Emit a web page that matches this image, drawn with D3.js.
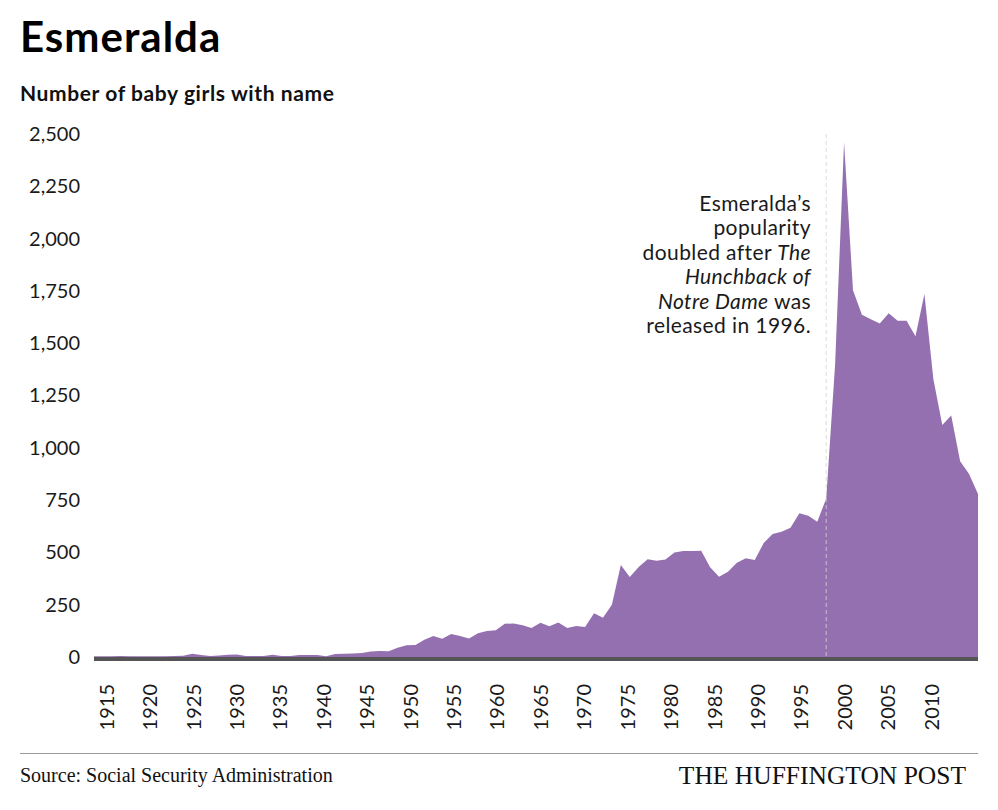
<!DOCTYPE html>
<html>
<head>
<meta charset="utf-8">
<script src="https://cdn.jsdelivr.net/npm/d3@7"></script>
<style>
  body { margin: 0; background: #fff; }
  #chart { width: 998px; height: 810px; }
</style>
</head>
<body>
<div id="chart"></div>
<script>
// Girls named Esmeralda per year (SSA)
const firstYear = 1914;
const counts = [
    3, 3, 4, 5, 4, 4, 4, 3, 4, 5,                           // 1914-1923
    6, 15, 9, 5, 7, 11, 12, 5, 5, 5,                        // 1924-1933
    11, 5, 5, 10, 9, 9, 4, 14, 16, 17,                      // 1934-1943
    19, 26, 29, 27, 44, 56, 57, 83, 100, 87,                // 1944-1953
    110, 100, 88, 114, 124, 128, 159, 160, 152, 139,        // 1954-1963
    164, 147, 165, 139, 148, 143, 209, 188, 250, 440,       // 1964-1973
    382, 430, 467, 460, 466, 499, 507, 507, 508, 429,       // 1974-1983
    384, 407, 451, 472, 464, 545, 588, 599, 618, 687,       // 1984-1993
    675, 647, 757, 1400, 2460, 1753, 1636, 1614, 1594, 1643, // 1994-2003
    1607, 1607, 1533, 1735, 1329, 1109, 1154, 936, 875, 779  // 2004-2013
];
const yTicks = [0, 250, 500, 750, 1000, 1250, 1500, 1750, 2000, 2250, 2500];
const xTicks = [1915, 1920, 1925, 1930, 1935, 1940, 1945, 1950, 1955, 1960,
    1965, 1970, 1975, 1980, 1985, 1990, 1995, 2000, 2005, 2010];
const releaseYear = 1996;
const noteLines = [
    [['Esmeralda’s', false]],
    [['popularity', false]],
    [['doubled after ', false], ['The', true]],
    [['Hunchback of', true]],
    [['Notre Dame', true], [' was', false]],
    [['released in 1996.', false]]
];

const FONT = 'Lato, "Open Sans", sans-serif';
const SERIF = '"Liberation Serif", "DejaVu Serif", serif';

class ChartManager {
    static create(idName) {
        const data = counts.map((v, i) => ({ year: firstYear + i, value: v }));
        const svg = d3.select('#' + idName).append('svg')
            .attr('width', 998)
            .attr('height', 810)
            .style('background', '#fff');

        const scales = {
            x: d3.scaleLinear().domain([firstYear, firstYear + counts.length - 1]).range([94, 978]),
            // the original's year labels sit on a slightly tighter grid than the data
            xLabel: d3.scaleLinear().domain([1915, 2010]).range([106, 931]),
            y: d3.scaleLinear().domain([0, 2500]).range([657, 134])
        };

        this.drawTitles(svg);
        this.drawArea(svg, data, scales);
        this.drawAxes(svg, data, scales);
        this.drawAnnotation(svg, scales);
        this.drawFooter(svg);
    }

    static drawTitles(svg) {
        svg.append('text')
            .attr('x', 20).attr('y', 52)
            .attr('font-family', FONT).attr('font-size', 42).attr('font-weight', 700)
            .attr('letter-spacing', 1)
            .attr('fill', '#000')
            .text('Esmeralda');

        svg.append('text')
            .attr('x', 20).attr('y', 101)
            .attr('font-family', FONT).attr('font-size', 21).attr('font-weight', 700)
            .attr('letter-spacing', 0.6)
            .attr('fill', '#111')
            .text('Number of baby girls with name');
    }

    static drawArea(svg, data, scales) {
        const area = d3.area()
            .x(d => scales.x(d.year))
            .y0(scales.y(0))
            .y1(d => scales.y(d.value));

        svg.append('path')
            .datum(data)
            .attr('fill', '#9470b0')
            .attr('d', area);
    }

    static drawAxes(svg, data, scales) {
        const yAxis = svg.append('g')
            .attr('transform', 'translate(80,0)')
            .call(d3.axisLeft(scales.y)
                .tickValues(yTicks)
                .tickSize(0)
                .tickPadding(0)
                .tickFormat(d3.format(',')));
        yAxis.select('.domain').remove();
        yAxis.selectAll('text')
            .attr('font-family', FONT)
            .attr('font-size', 20)
            .attr('fill', '#1a1a1a');

        // baseline
        svg.append('line')
            .attr('x1', scales.x(firstYear))
            .attr('x2', scales.x(firstYear + data.length - 1))
            .attr('y1', scales.y(0) + 2)
            .attr('y2', scales.y(0) + 2)
            .attr('stroke', '#555')
            .attr('stroke-width', 4);

        const xAxis = svg.append('g')
            .attr('transform', 'translate(0,684)')
            .call(d3.axisBottom(scales.xLabel)
                .tickValues(xTicks)
                .tickSize(0)
                .tickFormat(d3.format('d')));
        xAxis.select('.domain').remove();
        xAxis.selectAll('text')
            .attr('font-family', FONT)
            .attr('font-size', 20)
            .attr('fill', '#1a1a1a')
            .attr('x', 0)
            .attr('y', 0)
            .attr('dy', '0.36em')
            .style('text-anchor', 'end')
            .attr('transform', 'rotate(-90)');
    }

    static drawAnnotation(svg, scales) {
        const lx = scales.x(releaseYear);
        svg.append('line')
            .attr('x1', lx).attr('x2', lx)
            .attr('y1', scales.y(2500)).attr('y2', scales.y(0))
            .attr('stroke', '#d4d4d4')
            .attr('stroke-width', 1)
            .attr('stroke-dasharray', '4,3')
            .attr('opacity', 0.8);

        const note = svg.append('text')
            .attr('font-family', FONT)
            .attr('font-size', 21)
            .attr('letter-spacing', 0.4)
            .attr('fill', '#1a1a1a')
            .attr('text-anchor', 'end');

        noteLines.forEach((parts, i) => {
            parts.forEach(([t, italic], j) => {
                const span = note.append('tspan')
                    .attr('font-style', italic ? 'italic' : 'normal')
                    .text(t);
                if (j === 0) span.attr('x', 811).attr('y', 211 + i * 24.4);
            });
        });
    }

    static drawFooter(svg) {
        svg.append('line')
            .attr('x1', 20).attr('x2', 978)
            .attr('y1', 753.5).attr('y2', 753.5)
            .attr('stroke', '#999')
            .attr('stroke-width', 1);

        svg.append('text')
            .attr('x', 20).attr('y', 782)
            .attr('font-family', SERIF).attr('font-size', 20)
            .attr('fill', '#111')
            .text('Source: Social Security Administration');

        svg.append('text')
            .attr('x', 966).attr('y', 784)
            .attr('text-anchor', 'end')
            .attr('font-family', SERIF).attr('font-size', 25.5)
            .attr('fill', '#111')
            .text('THE HUFFINGTON POST');
    }
}

ChartManager.create('chart');
</script>
</body>
</html>
